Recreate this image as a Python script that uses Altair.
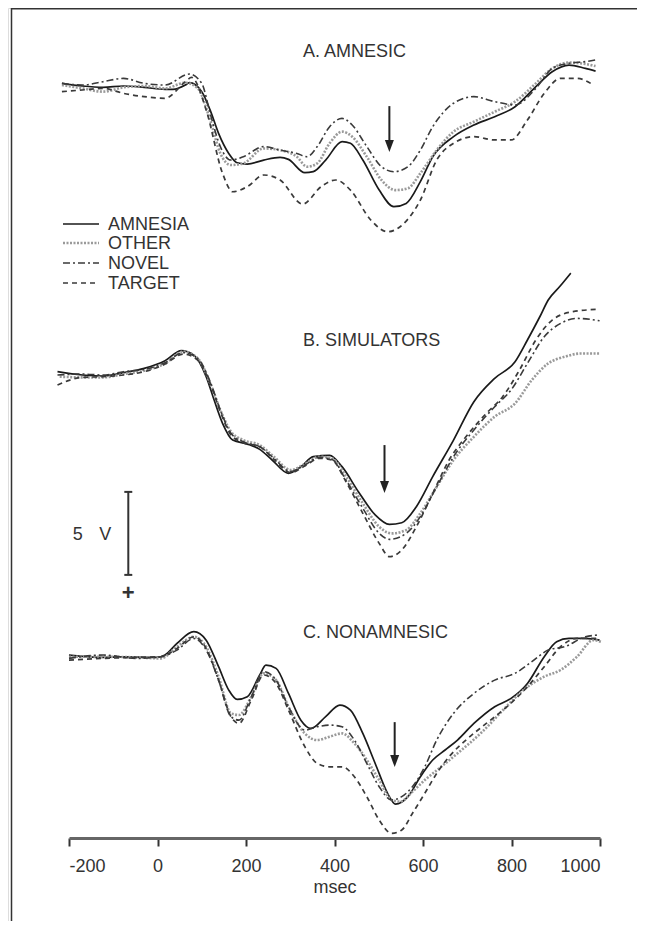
import altair as alt
import pandas as pd

SERIES = ["AMNESIA", "OTHER", "NOVEL", "TARGET"]
PANEL_TITLES = ["A. AMNESIC", "B. SIMULATORS", "C. NONAMNESIC"]
X_TICKS = [-200, 0, 200, 400, 600, 800, 1000]

# ---------------- Panel A: AMNESIC (ms, microvolts; positive plotted downward) -------------
A_AMNESIA_MS = [-216, -170, -123, -77, -30, 17, 35, 63, 72, 100, 119, 138, 161, 180, 203, 240, 277, 296, 333, 352,
                380, 417, 436, 464, 501, 534, 562, 594, 622, 669, 715, 762, 808, 855, 892, 930, 967, 990]
A_AMNESIA_UV = [-0.1, 0.06, 0.14, 0.06, 0.14, 0.26, 0.26, 0.0, -0.14, 0.4, 1.51, 2.91, 4.12, 4.68, 4.76, 4.52, 4.36, 4.48,
                5.28, 5.22, 4.52, 3.41, 3.51, 4.52, 6.33, 7.33, 7.13, 5.82, 4.32, 3.11, 2.41, 1.91, 1.31, 0.1, -0.8, -1.2,
                -1.0, -0.84]
A_OTHER_MS = [-216, -170, -123, -77, -30, 17, 63, 91, 119, 142, 166, 194, 240, 277, 315, 338, 361, 389, 417, 440, 473,
              506, 538, 566, 594, 631, 669, 715, 762, 808, 855, 892, 930, 967, 990]
A_OTHER_UV = [0.0, 0.2, 0.4, 0.14, 0.06, 0.2, -0.14, 0.2, 2.11, 4.12, 4.82, 4.72, 3.82, 3.92, 4.32, 4.92, 4.72, 3.51,
              2.81, 3.11, 4.32, 5.72, 6.33, 6.22, 5.32, 3.92, 2.81, 2.21, 1.61, 1.0, -0.1, -1.0, -1.35, -1.27, -1.14]
A_NOVEL_MS = [-216, -170, -123, -77, -30, 17, 72, 100, 119, 142, 166, 194, 240, 277, 315, 338, 361, 389, 417, 440, 473,
              506, 534, 566, 594, 622, 669, 715, 762, 808, 855, 892, 930, 967, 990]
A_NOVEL_UV = [-0.1, 0.0, -0.2, -0.4, -0.1, 0.0, -0.66, -0.1, 1.71, 3.71, 4.52, 4.32, 3.71, 3.92, 4.12, 4.32, 3.71, 2.51,
              2.01, 2.41, 3.71, 4.92, 5.22, 4.92, 3.92, 2.51, 1.1, 0.7, 1.0, 1.2, 0.2, -1.0, -1.31, -1.41, -1.51]
A_TARGET_MS = [-216, -170, -123, -77, -30, 17, 63, 77, 110, 147, 170, 203, 240, 277, 328, 370, 403, 436, 482, 520, 557,
               594, 631, 669, 715, 762, 799, 836, 874, 911, 948, 985]
A_TARGET_UV = [0.4, 0.3, 0.2, 0.5, 0.7, 0.8, -0.2, -0.46, 1.51, 5.32, 6.43, 6.12, 5.42, 5.72, 7.17, 6.12, 5.72, 6.33,
               8.13, 8.84, 8.33, 6.93, 4.52, 3.51, 3.11, 3.31, 3.31, 2.11, 0.5, -0.4, -0.4, 0.0]

# ---------------- Panel B: SIMULATORS -------------
B_AMNESIA_MS = [-226, -170, -123, -77, -30, 17, 54, 82, 110, 128, 147, 170, 203, 231, 259, 296, 324, 352, 389, 417, 454,
                492, 524, 552, 585, 622, 669, 715, 762, 808, 836, 864, 883, 910, 934]
B_AMNESIA_UV = [-0.14, 0.06, 0.12, -0.08, -0.34, -0.8, -1.41, -1.14, 0.16, 1.57, 2.97, 3.98, 4.22, 4.54, 5.18, 5.98, 5.58,
                4.98, 4.9, 5.58, 7.09, 8.49, 9.06, 8.96, 7.99, 6.18, 3.98, 1.67, 0.26, -0.74, -2.05, -3.45, -4.46, -5.3,
                -6.08]
B_OTHER_MS = [-221, -170, -123, -77, -30, 17, 58, 91, 119, 142, 166, 194, 231, 263, 301, 333, 366, 394, 426, 464, 501,
              529, 562, 594, 631, 669, 715, 762, 808, 846, 883, 920, 958, 999]
B_OTHER_UV = [0.16, 0.2, 0.2, 0.0, -0.2, -0.64, -1.35, -0.94, 0.56, 2.17, 3.47, 3.98, 4.28, 4.98, 5.78, 5.42, 4.98, 5.08,
              6.18, 7.79, 9.2, 9.6, 9.4, 8.39, 6.79, 5.18, 3.78, 2.57, 1.77, 0.36, -0.64, -1.04, -1.24, -1.24]
B_NOVEL_MS = [-226, -170, -123, -77, -30, 17, 58, 91, 119, 142, 166, 194, 231, 263, 301, 333, 366, 394, 426, 464, 501,
              524, 562, 594, 631, 669, 715, 762, 799, 836, 874, 911, 948, 999]
B_NOVEL_UV = [0.06, 0.0, 0.06, -0.14, -0.28, -0.68, -1.29, -0.94, 0.46, 2.17, 3.57, 4.08, 4.38, 5.08, 5.88, 5.48, 5.02,
              5.14, 6.39, 8.09, 9.6, 9.96, 9.6, 8.59, 6.79, 4.98, 3.37, 1.97, 0.96, -0.64, -2.25, -3.05, -3.35, -3.21]
B_TARGET_MS = [-226, -170, -123, -77, -30, 17, 58, 91, 119, 142, 166, 194, 231, 263, 301, 333, 366, 394, 426, 464, 501,
               524, 552, 585, 622, 659, 697, 743, 780, 818, 855, 892, 939, 999]
B_TARGET_UV = [0.66, 0.2, 0.16, 0.06, -0.14, -0.6, -1.2, -0.84, 0.56, 2.27, 3.67, 4.14, 4.38, 5.14, 5.94, 5.54, 5.08,
               5.18, 6.49, 8.39, 10.2, 11.0, 10.6, 9.2, 7.19, 5.18, 3.78, 2.37, 1.37, -0.24, -2.05, -3.25, -3.76, -3.9]

# ---------------- Panel C: NONAMNESIC -------------
C_AMNESIA_MS = [-200, -123, -77, -2, 17, 44, 82, 110, 138, 161, 180, 203, 231, 245, 268, 296, 324, 347, 380, 412, 436,
                464, 492, 520, 538, 566, 594, 622, 650, 678, 715, 762, 799, 836, 874, 902, 930, 967, 999]
C_AMNESIA_UV = [-0.12, 0.02, -0.02, 0.02, -0.12, -0.82, -1.53, -1.02, 0.58, 1.99, 2.55, 2.39, 1.08, 0.48, 0.68, 2.19,
                3.8, 4.3, 3.59, 2.89, 3.19, 4.6, 6.41, 8.21, 8.86, 8.41, 7.21, 6.2, 5.6, 5.0, 4.0, 2.99, 2.49, 1.59,
                -0.02, -0.92, -1.12, -1.12, -1.02]
C_OTHER_MS = [-200, -123, -48, 7, 44, 82, 110, 138, 166, 184, 212, 240, 268, 296, 333, 361, 389, 417, 445, 473, 501,
              529, 548, 576, 604, 641, 687, 734, 781, 827, 874, 911, 948, 985, 1002]
C_OTHER_UV = [-0.02, -0.02, 0.02, 0.08, -0.62, -1.22, -0.62, 1.18, 3.39, 3.49, 2.39, 0.98, 1.39, 2.99, 4.6, 5.0, 4.8,
              4.6, 5.2, 6.2, 7.41, 8.61, 8.71, 8.11, 7.41, 6.61, 5.6, 4.5, 3.19, 1.99, 1.18, 0.78, -0.02, -1.02, -0.92]
C_NOVEL_MS = [-200, -123, -48, 7, 44, 82, 110, 138, 166, 184, 212, 240, 268, 296, 333, 361, 389, 417, 445, 473, 501,
              529, 552, 576, 604, 631, 669, 715, 762, 808, 846, 883, 920, 967, 999]
C_NOVEL_UV = [0.08, -0.12, 0.08, -0.02, -0.42, -1.12, -0.42, 1.39, 3.59, 3.8, 2.39, 0.88, 1.39, 2.99, 4.4, 4.2, 4.1,
              4.2, 5.0, 6.41, 7.81, 8.61, 8.41, 7.81, 6.61, 5.0, 3.39, 2.19, 1.39, 0.98, 0.28, -0.42, -0.62, -1.22, -1.33]
C_TARGET_MS = [-200, -123, -48, 7, 44, 82, 110, 138, 166, 184, 212, 240, 268, 296, 333, 361, 389, 417, 445, 473, 501,
               529, 552, 576, 604, 631, 659, 697, 743, 790, 836, 874, 911, 948, 999]
C_TARGET_UV = [0.18, 0.08, 0.02, -0.02, -0.52, -1.22, -0.52, 1.39, 3.59, 4.0, 2.59, 1.08, 1.59, 3.19, 5.4, 6.41, 6.61,
               6.61, 7.21, 8.41, 9.82, 10.62, 10.42, 9.42, 8.21, 7.01, 6.0, 5.0, 4.0, 2.99, 1.79, 0.58, -0.62, -1.12, -1.12]

# arrows (latency in ms, start / end in microvolts relative to each panel baseline)
ARROW_MS = [524, 513, 536]
ARROW_UV_TOP = [1.27, 4.28, 3.92]
ARROW_UV_TIP = [4.03, 7.17, 6.63]

# calibration bar: 5 microvolts
CAL_MS = -66
CAL_UV = 5

# ---------------- layout (not data) ----------------
W, H = 629, 913
PX_PER_UV = 16.6
PANEL_BASE = [4.64, 22.05, 39.1]         # baseline of each panel, in microvolts from the top
Y_DOMAIN = [0, H / PX_PER_UV]
FONT = "Liberation Sans"
TXT = "#333333"

STYLE = {
    "AMNESIA": dict(color="#1a1a1a", strokeWidth=1.7),
    "OTHER": dict(color="#9a9a9a", strokeWidth=2.6, strokeDash=[2, 1.5]),
    "NOVEL": dict(color="#3a3a3a", strokeWidth=1.6, strokeDash=[7, 3, 2, 3]),
    "TARGET": dict(color="#3a3a3a", strokeWidth=1.7, strokeDash=[5, 4]),
}

raw = {
    ("A", "AMNESIA"): (A_AMNESIA_MS, A_AMNESIA_UV), ("A", "OTHER"): (A_OTHER_MS, A_OTHER_UV),
    ("A", "NOVEL"): (A_NOVEL_MS, A_NOVEL_UV), ("A", "TARGET"): (A_TARGET_MS, A_TARGET_UV),
    ("B", "AMNESIA"): (B_AMNESIA_MS, B_AMNESIA_UV), ("B", "OTHER"): (B_OTHER_MS, B_OTHER_UV),
    ("B", "NOVEL"): (B_NOVEL_MS, B_NOVEL_UV), ("B", "TARGET"): (B_TARGET_MS, B_TARGET_UV),
    ("C", "AMNESIA"): (C_AMNESIA_MS, C_AMNESIA_UV), ("C", "OTHER"): (C_OTHER_MS, C_OTHER_UV),
    ("C", "NOVEL"): (C_NOVEL_MS, C_NOVEL_UV), ("C", "TARGET"): (C_TARGET_MS, C_TARGET_UV),
}
base_of = dict(zip(["A", "B", "C"], PANEL_BASE))
rows = []
for (panel, series), (ms, uv) in raw.items():
    for i, (t, v) in enumerate(zip(ms, uv)):
        rows.append(dict(panel=panel, series=series, ms=t, uv=v, pos=base_of[panel] + v, order=i))
df = pd.DataFrame(rows)

xs = alt.Scale(domain=[-200, 1000], range=[61, 592])
ys = alt.Scale(domain=Y_DOMAIN, reverse=True)

X = alt.X("ms:Q", scale=xs, axis=alt.Axis(
    values=X_TICKS, title="msec", orient="bottom", offset=-83, grid=False,
    labelExpr="'' + datum.value",
    domainColor="#666666", domainWidth=3, tickColor="#333333", tickWidth=2, tickSize=8,
    labelFont=FONT, labelFontSize=18, labelColor=TXT, labelPadding=11,
    titleFont=FONT, titleFontSize=18, titleColor=TXT, titleFontWeight="normal", titlePadding=3))

layers = []
for s in SERIES:
    layers.append(
        alt.Chart(df[df.series == s]).mark_line(interpolate="monotone", **STYLE[s]).encode(
            x=X,
            y=alt.Y("pos:Q", scale=ys, axis=None),
            detail="panel:N",
            order="order:Q",
        )
    )

# arrows
arr = pd.DataFrame({
    "ms": ARROW_MS,
    "top": [b + t for b, t in zip(PANEL_BASE, ARROW_UV_TOP)],
    "tip": [b + t for b, t in zip(PANEL_BASE, ARROW_UV_TIP)],
})
arr["neck"] = arr["tip"] - 6 / PX_PER_UV
layers.append(alt.Chart(arr).mark_rule(color="#222222", strokeWidth=2).encode(
    x=alt.X("ms:Q", scale=xs), y=alt.Y("top:Q", scale=ys), y2="neck:Q"))
layers.append(alt.Chart(arr).mark_point(shape="M-0.75,-1L0.75,-1L0,1Z", filled=True, size=144,
                                        color="#222222", opacity=1).encode(
    x=alt.X("ms:Q", scale=xs), y=alt.Y("neck:Q", scale=ys)))

# calibration bar (5 uV) in panel B region
cal_top = PANEL_BASE[1] + 7.1
cal = pd.DataFrame({"ms": [CAL_MS], "top": [cal_top], "bot": [cal_top + CAL_UV],
                    "l": [CAL_MS - 9], "r": [CAL_MS + 9]})
layers.append(alt.Chart(cal).mark_rule(color="#333333", strokeWidth=2).encode(
    x=alt.X("ms:Q", scale=xs), y=alt.Y("top:Q", scale=ys), y2="bot:Q"))
for f in ["top", "bot"]:
    layers.append(alt.Chart(cal).mark_rule(color="#333333", strokeWidth=2).encode(
        x=alt.X("l:Q", scale=xs), x2="r:Q", y=alt.Y(f"{f}:Q", scale=ys)))
cal_txt = pd.DataFrame({"ms": [-180, -118, CAL_MS],
                        "pos": [cal_top + 2.6, cal_top + 2.6, cal_top + CAL_UV + 1.1],
                        "t": ["5", "V", "+"]})
layers.append(alt.Chart(cal_txt[cal_txt.t != "+"]).mark_text(
    font=FONT, fontSize=18, color=TXT, baseline="middle", align="center").encode(
    x=alt.X("ms:Q", scale=xs), y=alt.Y("pos:Q", scale=ys), text="t:N"))
layers.append(alt.Chart(cal_txt[cal_txt.t == "+"]).mark_text(
    font=FONT, fontSize=22, fontWeight="bold", color="#333333", baseline="middle", align="center").encode(
    x=alt.X("ms:Q", scale=xs), y=alt.Y("pos:Q", scale=ys), text="t:N"))

# panel titles
TITLE_Y = [44, 333, 625]
for t, yv in zip(PANEL_TITLES, TITLE_Y):
    layers.append(alt.Chart(pd.DataFrame({"t": [t]})).mark_text(
        font=FONT, fontSize=18, color=TXT, align="left", baseline="middle").encode(
        x=alt.value(295), y=alt.value(yv), text="t:N"))

# legend
LEG_Y = [216, 235, 255, 275]
for s, yv in zip(SERIES, LEG_Y):
    st = dict(STYLE[s])
    layers.append(alt.Chart(pd.DataFrame({"s": [s]})).mark_rule(**st).encode(
        x=alt.value(55), x2=alt.value(91), y=alt.value(yv)))
    layers.append(alt.Chart(pd.DataFrame({"s": [s]})).mark_text(
        font=FONT, fontSize=18, color=TXT, align="left", baseline="middle").encode(
        x=alt.value(100), y=alt.value(yv + 1), text="s:N"))

# frame
layers.append(alt.Chart(pd.DataFrame({"a": [0]})).mark_rule(color="#333333", strokeWidth=1.5).encode(
    x=alt.value(3.5), y=alt.value(0), y2=alt.value(H)))
layers.append(alt.Chart(pd.DataFrame({"a": [0]})).mark_rule(color="#333333", strokeWidth=1.5).encode(
    x=alt.value(3.5), x2=alt.value(W), y=alt.value(0.75)))

chart = alt.layer(*layers).properties(
    width=W, height=H, autosize="none", padding=0
).configure_view(stroke=None).configure(background="white")

chart.save("out.html", embed_options={"renderer": "svg", "actions": False})
